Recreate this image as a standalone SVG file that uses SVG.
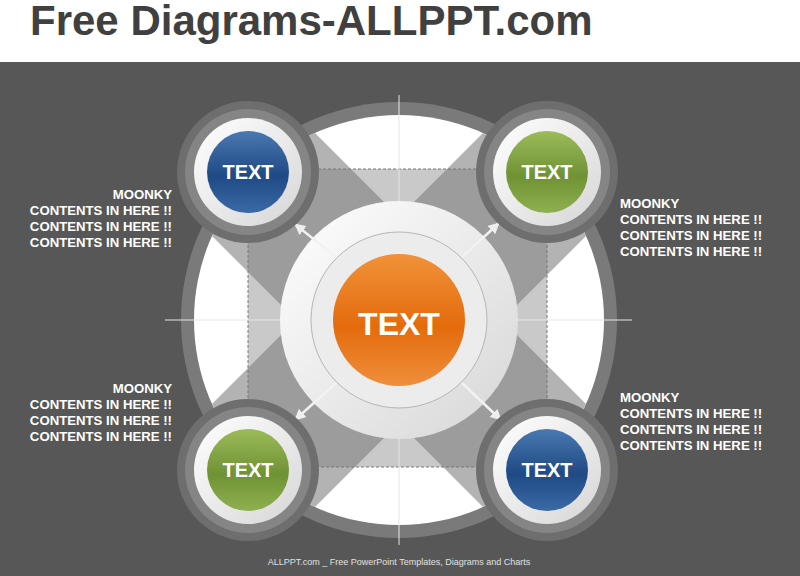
<svg xmlns="http://www.w3.org/2000/svg" width="800" height="576" viewBox="0 0 800 576">
<defs>
<style>
.t{font-family:"Liberation Sans",Arial,sans-serif;font-weight:bold;fill:#fff}
.d{font-size:13.2px}
.n{font-size:20px;text-anchor:middle}
</style>
<clipPath id="big"><circle cx="399" cy="320" r="205"/></clipPath>
<clipPath id="sq"><rect x="248" y="169" width="299" height="298"/></clipPath>
<linearGradient id="wg" x1="0" y1="0" x2="1" y2="1"><stop offset="0" stop-color="#ffffff"/><stop offset="1" stop-color="#d6d6d6"/></linearGradient>
<linearGradient id="og" x1="0" y1="0" x2="0" y2="1"><stop offset="0" stop-color="#f0923a"/><stop offset="0.55" stop-color="#e46b0c"/><stop offset="1" stop-color="#ef8f3c"/></linearGradient>
<linearGradient id="bg" x1="0" y1="0" x2="0" y2="1"><stop offset="0" stop-color="#4a78b0"/><stop offset="0.55" stop-color="#1f4a85"/><stop offset="1" stop-color="#3a6aa6"/></linearGradient>
<linearGradient id="gg" x1="0" y1="0" x2="0" y2="1"><stop offset="0" stop-color="#9cbb5a"/><stop offset="0.55" stop-color="#6f9234"/><stop offset="1" stop-color="#8fb050"/></linearGradient>
<marker id="ar" viewBox="0 0 10 10" refX="8" refY="5" markerWidth="4.5" markerHeight="4.5" orient="auto"><path d="M0,0L10,5L0,10z" fill="#eeeeee"/></marker>
<g id="ring"><circle r="71" fill="#6e6e6e"/><circle r="63" fill="#858585"/><circle r="54" fill="url(#wg)"/></g>
</defs>
<rect width="800" height="576" fill="#575757"/>
<rect width="800" height="62" fill="#ffffff"/>
<text x="30" y="35" font-family="Liberation Sans,Arial,sans-serif" font-weight="bold" font-size="42" fill="#404040">Free Diagrams-ALLPPT.com</text>

<g id="background">
<circle cx="399" cy="320" r="218" fill="#7a7a7a"/>
<circle cx="399" cy="320" r="205" fill="#ffffff"/>
<g clip-path="url(#big)" fill="#b3b3b3">
<polygon points="-124,-100 82,-100 982,800 776,800"/>
<polygon points="716,-100 922,-100 22,800 -184,800"/>
</g>
<rect x="248" y="169" width="299" height="298" fill="#c9c9c9"/>
<g clip-path="url(#sq)" fill="#9c9c9c">
<polygon points="-124,-100 82,-100 982,800 776,800"/>
<polygon points="716,-100 922,-100 22,800 -184,800"/>
</g>
<rect x="248" y="169" width="299" height="298" fill="none" stroke="#777" stroke-dasharray="3,2" stroke-width="1"/>
<line x1="165" y1="320" x2="632" y2="320" stroke="#e6e6e6" stroke-width="1"/>
<line x1="399" y1="95" x2="399" y2="545" stroke="#e6e6e6" stroke-width="1"/>
</g>

<g id="center">
<circle cx="399" cy="320" r="119" fill="url(#wg)"/>
<circle cx="399" cy="320" r="88" fill="#ececec" stroke="#b5b5b5" stroke-width="1"/>
<circle cx="399" cy="320" r="66" fill="url(#og)"/>
<text class="t" x="399" y="335" font-size="32" text-anchor="middle">TEXT</text>
</g>

<g id="connectors" stroke="#f2f2f2" stroke-width="2.5" marker-end="url(#ar)">
<line x1="336" y1="257" x2="296" y2="225"/>
<line x1="462" y1="257" x2="498" y2="224"/>
<line x1="336" y1="383" x2="296" y2="419"/>
<line x1="462" y1="383" x2="500" y2="419"/>
</g>

<g id="n1" transform="translate(248,172)"><use href="#ring"/><circle r="41" fill="url(#bg)"/><text class="t n" y="7">TEXT</text></g>
<g id="n2" transform="translate(547,172)"><use href="#ring"/><circle r="41" fill="url(#gg)"/><text class="t n" y="7">TEXT</text></g>
<g id="n3" transform="translate(248,470)"><use href="#ring"/><circle r="41" fill="url(#gg)"/><text class="t n" y="7">TEXT</text></g>
<g id="n4" transform="translate(547,470)"><use href="#ring"/><circle r="41" fill="url(#bg)"/><text class="t n" y="7">TEXT</text></g>

<g id="labels" class="t d">
<text text-anchor="end" x="172" y="199">MOONKY</text>
<text text-anchor="end" x="172" y="215">CONTENTS IN HERE !!</text>
<text text-anchor="end" x="172" y="231">CONTENTS IN HERE !!</text>
<text text-anchor="end" x="172" y="247">CONTENTS IN HERE !!</text>
<text x="620" y="208">MOONKY</text>
<text x="620" y="224">CONTENTS IN HERE !!</text>
<text x="620" y="240">CONTENTS IN HERE !!</text>
<text x="620" y="256">CONTENTS IN HERE !!</text>
<text text-anchor="end" x="172" y="393">MOONKY</text>
<text text-anchor="end" x="172" y="409">CONTENTS IN HERE !!</text>
<text text-anchor="end" x="172" y="425">CONTENTS IN HERE !!</text>
<text text-anchor="end" x="172" y="441">CONTENTS IN HERE !!</text>
<text x="620" y="402">MOONKY</text>
<text x="620" y="418">CONTENTS IN HERE !!</text>
<text x="620" y="434">CONTENTS IN HERE !!</text>
<text x="620" y="450">CONTENTS IN HERE !!</text>
</g>
<text x="399" y="565" text-anchor="middle" font-family="Liberation Sans,Arial,sans-serif" font-size="9" fill="#e0e0e0">ALLPPT.com _ Free PowerPoint Templates, Diagrams and Charts</text>
</svg>
